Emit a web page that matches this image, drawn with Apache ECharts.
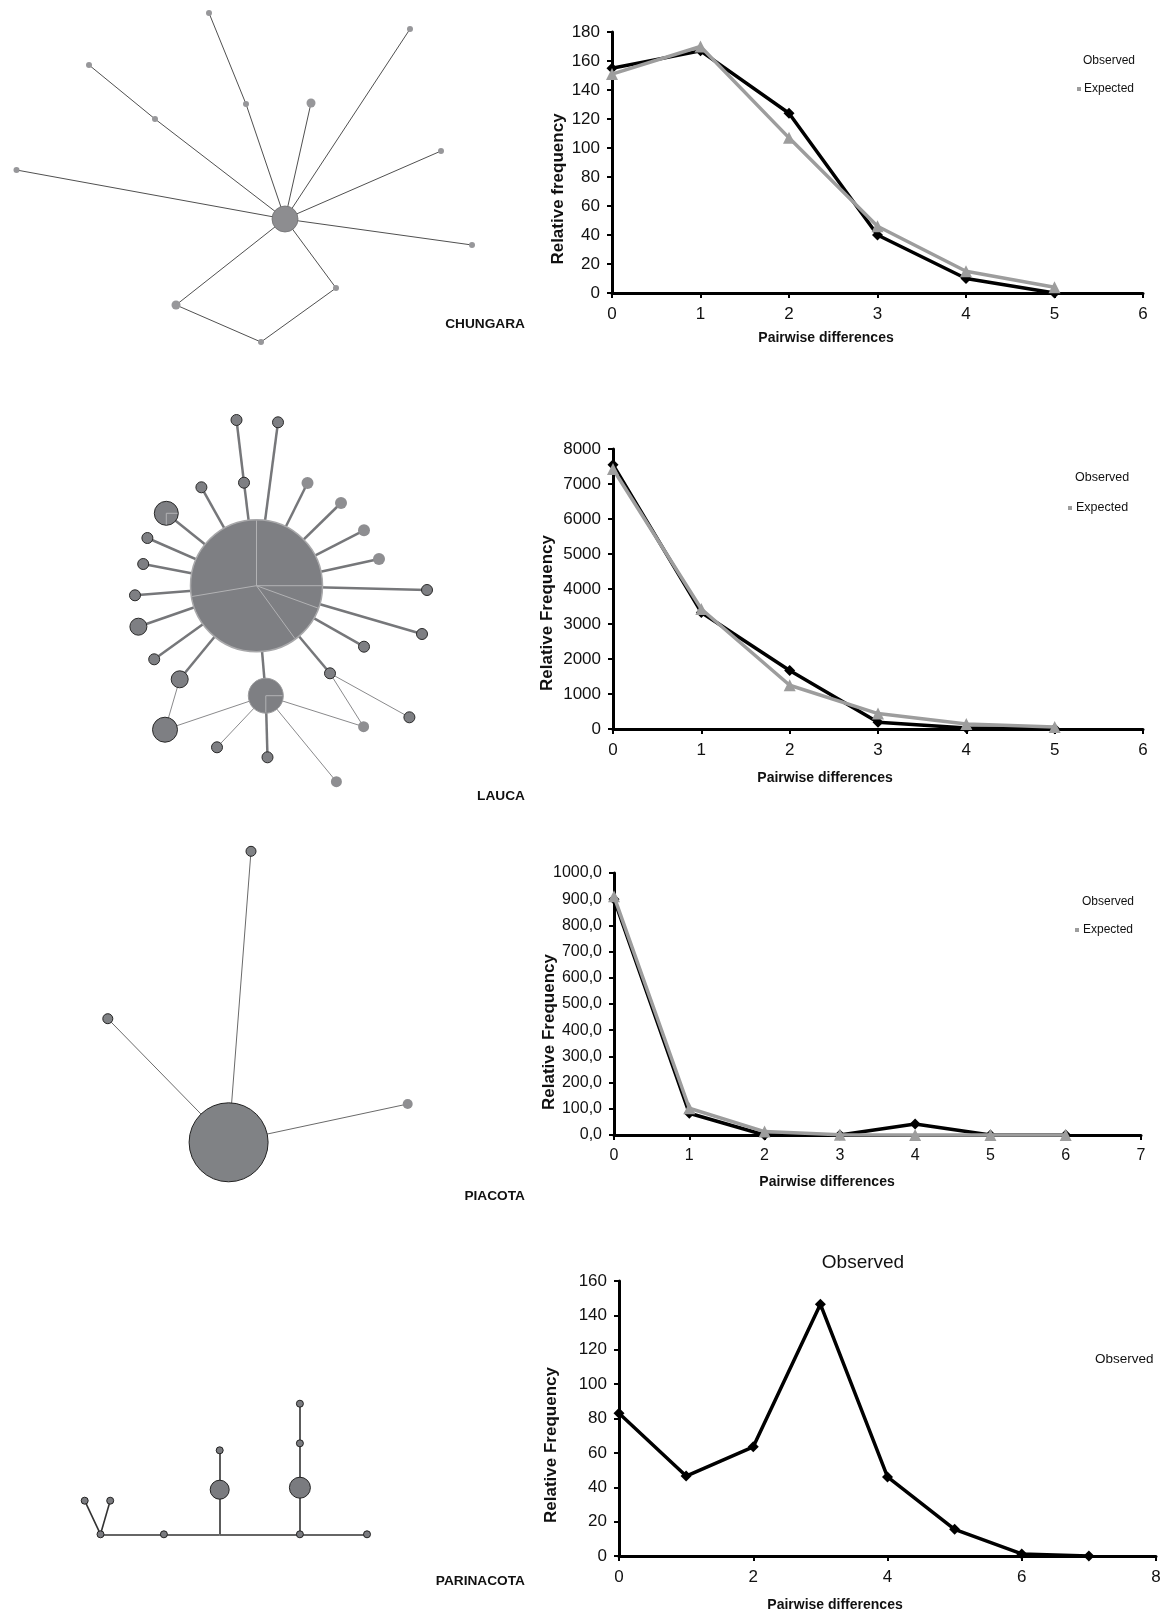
<!DOCTYPE html>
<html><head><meta charset="utf-8">
<script src="https://cdn.jsdelivr.net/npm/echarts@6/dist/echarts.min.js"></script>
<style>html,body{margin:0;padding:0;background:#fff}#c{width:1175px;height:1614px}</style>
</head><body><div id="c"></div>
<script>
const FONT = '"Liberation Sans", Arial, Helvetica, sans-serif';

// ---------- Mismatch distributions ----------
const chungaraX = [0, 1, 2, 3, 4, 5];
const chungaraObserved = [155, 167, 124, 40, 10, 0];
const chungaraExpected = [151, 170, 107, 46, 15, 4];

const laucaX = [0, 1, 2, 3, 4, 5];
const laucaObserved = [7550, 3330, 1670, 190, 30, 5];
const laucaExpected = [7430, 3430, 1250, 440, 140, 55];

const piacotaX = [0, 1, 2, 3, 4, 5, 6];
const piacotaObserved = [900, 83, 0, 0, 42, 0, 0];
const piacotaExpected = [911, 102, 13, 1, 0, 0, 0];

const parinacotaX = [0, 1, 2, 3, 4, 5, 6, 7];
const parinacotaObserved = [83, 46.5, 63.5, 146.5, 46, 15.5, 1.2, 0];

const xTitle = 'Pairwise differences';
const yTitles = ['Relative frequency', 'Relative Frequency', 'Relative Frequency', 'Relative Frequency'];
const seriesNames = ['Observed', 'Expected'];
const populations = ['CHUNGARA', 'LAUCA', 'PIACOTA', 'PARINACOTA'];

// ---------- Haplotype networks (node: x, y, diameter) ----------
const chungaraNodes = [
  [285, 219, 26], [209, 13, 6], [246, 104, 6], [410, 29, 6], [311, 103, 9],
  [89, 65, 6], [155, 119, 6], [16.5, 170, 6], [441, 151, 6], [472, 245, 6],
  [336, 288, 6], [176, 305, 9], [261, 342, 6]
];
const chungaraEdges = [[0,2],[2,1],[0,4],[0,3],[0,6],[6,5],[0,7],[0,8],[0,9],[0,10],[0,11],[11,12],[12,10]];

const laucaNodes = [
  [256.5, 585.7, 132],            // 0 centre
  [236.5, 420, 11], [244, 482.7, 11], [278, 422.3, 11], [201.4, 487.3, 11], // 1-4
  [307.5, 483, 12], [341, 503, 12], [364, 530.3, 12], [379, 559, 12],       // 5-8
  [427, 590, 11], [422, 634, 11], [364, 646.7, 11], [330, 673.3, 11],       // 9-12
  [409.4, 717.3, 11], [363.6, 726.7, 11],                                   // 13-14
  [265.8, 695.7, 35],                                                       // 15
  [217, 747.3, 11], [267.5, 757.3, 11], [336.4, 781.7, 11],                 // 16-18
  [165, 729.7, 25], [179.7, 679.3, 17],                                     // 19-20
  [154.2, 659.3, 11], [138.4, 626.7, 17], [135, 595.3, 11], [143.2, 564, 11],
  [147.4, 538, 11], [166.3, 513.3, 24]                                      // 21-26
];
const laucaEdges = [[0,2],[2,1],[0,3],[0,4],[0,5],[0,6],[0,7],[0,8],[0,9],[0,10],[0,11],[0,12],
  [12,13],[12,14],[0,15],[15,14],[15,16],[15,17],[15,18],[15,19],[19,20],[0,20],
  [0,21],[0,22],[0,23],[0,24],[0,25],[0,26]];
const laucaThinEdges = [12, 13, 15, 16, 18, 19, 20];
const laucaLightNodes = [5, 6, 7, 8, 14, 18];
const laucaPies = [
  { node: 0, angles: [90, 0, -20, -54, -170.5] },
  { node: 26, angles: [0, -90] },
  { node: 15, angles: [0, -90] }
];

const piacotaNodes = [[228.6, 1142.3, 79], [251, 851.3, 10], [107.8, 1018.7, 10], [407.7, 1104, 10]];
const piacotaEdges = [[0,1],[0,2],[0,3]];
const piacotaLightNodes = [3];

const parinacotaNodes = [
  [100.5, 1534.3, 7], [84.7, 1500.7, 7], [110.2, 1500.7, 7], [163.9, 1534.3, 7],
  [219.7, 1534.3, 0], [219.7, 1489.7, 19], [219.7, 1450.3, 7],
  [299.9, 1534.3, 7], [299.9, 1487.7, 21], [299.9, 1443.3, 7], [299.9, 1403.7, 7],
  [367, 1534.3, 7]
];
const parinacotaEdges = [[0,1],[0,2],[0,3],[3,4],[4,7],[7,11],[4,5],[5,6],[7,8],[8,9],[9,10]];

// ---------- helpers ----------
const zip = (xs, ys) => xs.map((x, i) => [x, ys[i]]);

const grids = [
  { left: 612, top: 32, width: 531, height: 261 },
  { left: 613, top: 449, width: 530, height: 280 },
  { left: 614, top: 873, width: 527, height: 262 },
  { left: 619, top: 1281, width: 537, height: 275 },
  { left: 0, top: 0, width: 1175, height: 1614 }
].map(g => Object.assign({ outerBoundsMode: 'none', containLabel: false, show: false }, g));

const plainFmt = v => String(v);
const commaFmt = v => v.toFixed(1).replace('.', ',');

function xAxis(idx, max, interval, fs) {
  return {
    gridIndex: idx, type: 'value', min: 0, max, interval,
    axisLine: { show: true, onZero: false, lineStyle: { color: '#000', width: 3 } },
    axisTick: { show: true, length: 5, lineStyle: { color: '#000', width: 2 } },
    axisLabel: { color: '#111', fontSize: fs, fontFamily: FONT, margin: 13, formatter: plainFmt },
    splitLine: { show: false }
  };
}
function yAxis(idx, max, interval, fs, fmt) {
  return {
    gridIndex: idx, type: 'value', min: 0, max, interval,
    axisLine: { show: true, onZero: false, lineStyle: { color: '#000', width: 3 } },
    axisTick: { show: true, length: 5, lineStyle: { color: '#000', width: 2 } },
    axisLabel: { color: '#111', fontSize: fs, fontFamily: FONT, margin: 12, formatter: fmt || plainFmt },
    splitLine: { show: false }
  };
}
function obsSeries(idx, xs, ys) {
  return { type: 'line', name: seriesNames[0], xAxisIndex: idx, yAxisIndex: idx, data: zip(xs, ys),
    symbol: 'diamond', symbolSize: 11, showAllSymbol: true, clip: false, z: 3,
    itemStyle: { color: '#000' }, lineStyle: { color: '#000', width: 3.5 } };
}
function expSeries(idx, xs, ys) {
  return { type: 'line', name: seriesNames[1], xAxisIndex: idx, yAxisIndex: idx, data: zip(xs, ys),
    symbol: 'triangle', symbolSize: 12, showAllSymbol: true, clip: false, z: 4,
    itemStyle: { color: '#9d9d9d' }, lineStyle: { color: '#9d9d9d', width: 3.5 } };
}
function networkSeries(nodes, edges, nodeStyle, edgeStyle) {
  return {
    type: 'graph', layout: 'none', coordinateSystem: 'cartesian2d', xAxisIndex: 4, yAxisIndex: 4,
    silent: true, label: { show: false }, emphasis: { disabled: true }, z: 2,
    data: nodes.map((n, i) => ({ name: 'h' + i, value: [n[0], n[1]], symbol: 'circle', symbolSize: n[2], itemStyle: nodeStyle(i) })),
    links: edges.map((e, k) => ({ source: e[0], target: e[1], lineStyle: edgeStyle(k) }))
  };
}

const darkNode = { color: '#7e7f83', borderColor: '#2a2a2a', borderWidth: 1 };
const lightNode = { color: '#8e8e91', borderWidth: 0 };

const series = [
  obsSeries(0, chungaraX, chungaraObserved), expSeries(0, chungaraX, chungaraExpected),
  obsSeries(1, laucaX, laucaObserved), expSeries(1, laucaX, laucaExpected),
  obsSeries(2, piacotaX, piacotaObserved), expSeries(2, piacotaX, piacotaExpected),
  obsSeries(3, parinacotaX, parinacotaObserved),

  networkSeries(chungaraNodes, chungaraEdges,
    i => i === 0 ? { color: '#8d8d90', borderColor: '#6e6e70', borderWidth: 0.8 } : { color: '#97979a', borderWidth: 0 },
    () => ({ color: '#505050', width: 1, opacity: 1, curveness: 0 })),

  networkSeries(laucaNodes, laucaEdges,
    i => i === 0 ? { color: '#7e7f83', borderColor: '#a8a8aa', borderWidth: 1.5 }
      : i === 15 ? { color: '#7e7f83', borderColor: '#9a9a9c', borderWidth: 1 }
      : (laucaLightNodes.includes(i) ? lightNode : darkNode),
    k => laucaThinEdges.includes(k)
      ? { color: '#8a8a8c', width: 1, opacity: 1, curveness: 0 }
      : { color: '#76777a', width: 2.5, opacity: 1, curveness: 0 }),

  {
    type: 'custom', coordinateSystem: 'cartesian2d', xAxisIndex: 4, yAxisIndex: 4, z: 6, silent: true,
    data: laucaPies.map(p => laucaNodes[p.node]),
    renderItem: (params, api) => {
      const c = api.coord([api.value(0), api.value(1)]);
      const r = api.value(2) / 2 - 0.8;
      const angles = laucaPies[params.dataIndex].angles;
      return { type: 'group', children: angles.map(a => ({
        type: 'line',
        shape: { x1: c[0], y1: c[1], x2: c[0] + r * Math.cos(a * Math.PI / 180), y2: c[1] - r * Math.sin(a * Math.PI / 180) },
        style: { stroke: '#b2b2b4', lineWidth: 1 }
      })) };
    }
  },

  networkSeries(piacotaNodes, piacotaEdges,
    i => piacotaLightNodes.includes(i) ? lightNode : { color: '#808285', borderColor: '#222', borderWidth: 1 },
    () => ({ color: '#6a6a6a', width: 1, opacity: 1, curveness: 0 })),

  networkSeries(parinacotaNodes, parinacotaEdges,
    () => ({ color: '#7a7b7f', borderColor: '#222', borderWidth: 1 }),
    () => ({ color: '#333', width: 1.6, opacity: 1, curveness: 0 }))
];

// ---------- texts ----------
function txt(x, y, text, size, opts) {
  return Object.assign({ type: 'text', x, y, silent: true, z: 10,
    style: { text, fill: '#111', font: (opts && opts.weight ? opts.weight + ' ' : '') + size + 'px ' + FONT,
      align: (opts && opts.align) || 'left', verticalAlign: 'middle' } }, opts && opts.rotation ? { rotation: opts.rotation } : {});
}
const legendMarker = (x, y) => ({ type: 'rect', shape: { x: x - 2, y: y - 2, width: 4, height: 4 }, style: { fill: '#9d9d9d' }, silent: true });

const xTitlePos = [[826, 338], [825, 778], [827, 1182], [835, 1605]];
const yTitlePos = [[558, 189], [547, 613], [549, 1032], [551, 1445]];
const popLabelPos = [[525, 324], [525, 796], [525, 1196], [525, 1581]];

const graphic = [];
xTitlePos.forEach(p => graphic.push(txt(p[0], p[1], xTitle, 14, { weight: 'bold', align: 'center' })));
yTitlePos.forEach((p, i) => graphic.push(txt(p[0], p[1], yTitles[i], 17, { weight: 'bold', align: 'center', rotation: Math.PI / 2 })));
popLabelPos.forEach((p, i) => graphic.push(txt(p[0], p[1], populations[i], 13.7, { weight: 'bold', align: 'right' })));

// legends
graphic.push(txt(1083, 61, seriesNames[0], 12), txt(1084, 89, seriesNames[1], 12), legendMarker(1079, 89));
graphic.push(txt(1075, 478, seriesNames[0], 12.5), txt(1076, 508, seriesNames[1], 12.5), legendMarker(1070, 508));
graphic.push(txt(1082, 902, seriesNames[0], 12), txt(1083, 930, seriesNames[1], 12), legendMarker(1077, 930));
graphic.push(txt(1095, 1359, seriesNames[0], 13.5));
// chart 4 title
graphic.push(txt(863, 1263, seriesNames[0], 19, { align: 'center' }));

const option = {
  animation: false,
  backgroundColor: '#fff',
  grid: grids,
  xAxis: [
    xAxis(0, 6, 1, 17), xAxis(1, 6, 1, 17), xAxis(2, 7, 1, 16), xAxis(3, 8, 2, 17),
    { gridIndex: 4, type: 'value', min: 0, max: 1175, show: false }
  ],
  yAxis: [
    yAxis(0, 180, 20, 17), yAxis(1, 8000, 1000, 17), yAxis(2, 1000, 100, 16, commaFmt), yAxis(3, 160, 20, 17),
    { gridIndex: 4, type: 'value', min: 0, max: 1614, inverse: true, show: false }
  ],
  series,
  graphic
};

const chart = echarts.init(document.getElementById('c'), null, { renderer: 'canvas' });
chart.setOption(option);
</script></body></html>
